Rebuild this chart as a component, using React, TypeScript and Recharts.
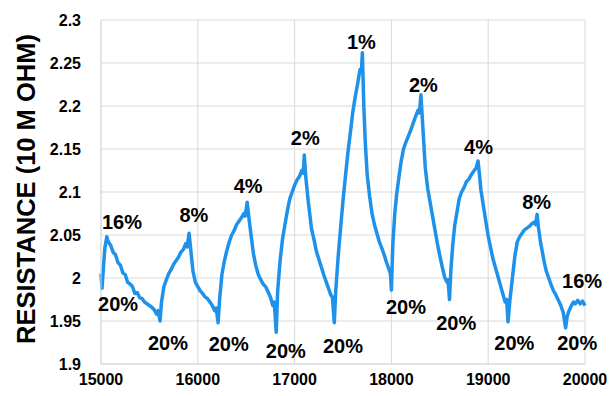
import React from 'react';
import { ComposedChart, Line, Scatter, XAxis, YAxis, CartesianGrid } from 'recharts';

const timeValues: number[] = [
  15000, 15010, 15025, 15040, 15060, 15075, 15100, 15125, 15150, 15175, 15200, 15225, 15250, 15275, 15300, 15325, 15350, 15375, 15400, 15425, 15450, 15475, 15500, 15525, 15550, 15575, 15590, 15610,
  15625, 15650, 15675, 15700, 15725, 15750, 15775, 15800, 15825, 15850, 15875, 15890, 15910,
  15930, 15950, 15975, 16000, 16025, 16050, 16075, 16100, 16125, 16150, 16175, 16190, 16210,
  16225, 16250, 16275, 16300, 16325, 16350, 16375, 16400, 16425, 16450, 16475, 16490, 16510,
  16530, 16550, 16575, 16600, 16625, 16650, 16675, 16700, 16725, 16750, 16775, 16790, 16810,
  16825, 16850, 16875, 16900, 16925, 16950, 16975, 17000, 17025, 17050, 17075, 17090, 17100,
  17115, 17140, 17175, 17200, 17225, 17250, 17275, 17300, 17325, 17350, 17375, 17390, 17410,
  17425, 17450, 17475, 17500, 17525, 17550, 17575, 17600, 17625, 17650, 17675, 17690, 17700,
  17715, 17730, 17750, 17775, 17800, 17825, 17850, 17875, 17900, 17925, 17950, 17975, 17990, 18000,
  18015, 18035, 18055, 18075, 18100, 18125, 18150, 18175, 18200, 18225, 18250, 18275, 18290, 18305,
  18325, 18350, 18375, 18400, 18425, 18450, 18475, 18500, 18525, 18550, 18575, 18585, 18600,
  18615, 18635, 18655, 18675, 18700, 18725, 18750, 18775, 18800, 18825, 18850, 18875, 18895,
  18910, 18925, 18950, 18975, 19000, 19025, 19050, 19075, 19100, 19125, 19150, 19175, 19190, 19205,
  19225, 19250, 19275, 19300, 19325, 19350, 19375, 19400, 19425, 19450, 19475, 19490, 19505,
  19520, 19540, 19560, 19580, 19600, 19625, 19650, 19675, 19700, 19725, 19750, 19775, 19800,
  19815, 19835, 19860, 19880, 19900, 19925, 19950, 19975, 20000,
];

const resistanceValues: number[] = [
  2.005, 1.988, 2.012, 2.035, 2.048, 2.042, 2.038, 2.030, 2.027, 2.018, 2.015, 2.006, 2.004, 1.995, 1.993, 1.990, 1.982, 1.983, 1.977, 1.976, 1.972, 1.970, 1.968, 1.966, 1.963, 1.958, 1.962, 1.950,
  1.972, 1.990, 1.998, 2.005, 2.010, 2.016, 2.020, 2.024, 2.030, 2.033, 2.040, 2.036, 2.052,
  2.030, 2.008, 1.995, 1.990, 1.985, 1.982, 1.978, 1.976, 1.972, 1.968, 1.962, 1.965, 1.948,
  1.975, 2.005, 2.020, 2.032, 2.042, 2.050, 2.055, 2.062, 2.066, 2.070, 2.075, 2.072, 2.088,
  2.068, 2.050, 2.028, 2.014, 2.004, 1.998, 1.993, 1.990, 1.984, 1.978, 1.968, 1.972, 1.937,
  1.985, 2.020, 2.045, 2.062, 2.078, 2.092, 2.100, 2.108, 2.114, 2.118, 2.125, 2.122, 2.143,
  2.118, 2.090, 2.057, 2.045, 2.031, 2.022, 2.013, 2.004, 1.996, 1.988, 1.980, 1.978, 1.948,
  1.985, 2.025, 2.058, 2.090, 2.118, 2.145, 2.168, 2.192, 2.210, 2.225, 2.242, 2.240, 2.262,
  2.200, 2.158, 2.120, 2.095, 2.075, 2.062, 2.052, 2.042, 2.035, 2.027, 2.018, 2.010, 2.005, 1.986,
  2.040, 2.075, 2.098, 2.115, 2.135, 2.150, 2.158, 2.165, 2.172, 2.180, 2.188, 2.195, 2.192, 2.213,
  2.175, 2.128, 2.104, 2.088, 2.072, 2.056, 2.040, 2.026, 2.013, 2.001, 1.995, 1.998, 1.975,
  2.010, 2.040, 2.062, 2.075, 2.092, 2.100, 2.105, 2.112, 2.115, 2.120, 2.124, 2.128, 2.136,
  2.120, 2.102, 2.084, 2.066, 2.049, 2.035, 2.022, 2.012, 2.002, 1.992, 1.982, 1.972, 1.975, 1.949,
  1.975, 2.000, 2.025, 2.042, 2.048, 2.052, 2.056, 2.058, 2.060, 2.063, 2.065, 2.062, 2.074,
  2.058, 2.042, 2.030, 2.018, 2.008, 2.000, 1.992, 1.985, 1.980, 1.974, 1.968, 1.960, 1.942,
  1.955, 1.962, 1.968, 1.972, 1.970, 1.974, 1.970, 1.973, 1.968,
];

const annotationTexts: string[] = ['16%', '20%', '8%', '20%', '4%', '20%', '2%', '20%', '1%', '20%', '2%', '20%', '4%', '20%', '8%', '20%', '16%', '20%'];
const annotationX: number[] = [15217, 15176, 15960, 15692, 16520, 16320, 17110, 16910, 17690, 17500, 18330, 18150, 18900, 18670, 19500, 19270, 19970, 19920];
const annotationY: number[] = [2.065, 1.970, 2.073, 1.925, 2.107, 1.923, 2.163, 1.915, 2.275, 1.921, 2.224, 1.966, 2.152, 1.948, 2.088, 1.925, 1.996, 1.924];

const xTicks: number[] = [15000, 16000, 17000, 18000, 19000, 20000];
const yTicks: number[] = [1.9, 1.95, 2, 2.05, 2.1, 2.15, 2.2, 2.25, 2.3];

const lineData = timeValues.map((t, i) => ({ x: t, y: resistanceValues[i] }));
const labelData = annotationTexts.map((s, i) => ({ x: annotationX[i], y: annotationY[i], text: s }));

const FONT = '"Liberation Sans", Arial, sans-serif';

const LabelShape = (props: any) => {
  const { cx, cy, payload } = props;
  return (
    <text x={cx} y={cy} textAnchor="middle" dominantBaseline="central" fontFamily={FONT} fontWeight="bold" fontSize={20} fill="#000">
      {payload.text}
    </text>
  );
};

const YTitle = (props: any) => {
  const cx = 26;
  const cy = 189;
  return (
    <text x={cx} y={cy} transform={`rotate(-90, ${cx}, ${cy})`} textAnchor="middle" dominantBaseline="central" fontFamily={FONT} fontWeight="bold" fontSize={25.5} fill="#000">
      RESISTANCE (10 M OHM)
    </text>
  );
};

export default function App() {
  return (
    <div style={{ position: 'absolute', left: 0, top: 0, width: 611, height: 396, background: '#fff' }}>
      <ComposedChart width={611} height={396} margin={{ top: 20, right: 26, bottom: 7, left: 41 }}>
        <CartesianGrid stroke="#d9d9d9" strokeWidth={1} />
        <XAxis
          type="number"
          dataKey="x"
          domain={[15000, 20000]}
          ticks={xTicks}
          height={25}
          tickLine={false}
          axisLine={{ stroke: '#d9d9d9' }}
          tick={{ fill: '#000', fontFamily: FONT, fontWeight: 'bold', fontSize: 16 }}
          tickMargin={4}
          interval={0}
        />
        <YAxis
          type="number"
          dataKey="y"
          domain={[1.9, 2.3]}
          ticks={yTicks}
          width={60}
          tickLine={false}
          axisLine={{ stroke: '#d9d9d9' }}
          tick={{ fill: '#000', fontFamily: FONT, fontWeight: 'bold', fontSize: 16 }}
          tickMargin={14}
          interval={0}
          label={<YTitle />}
        />
        <Line
          data={lineData}
          dataKey="y"
          type="linear"
          stroke="#1E92EA"
          strokeWidth={3.5}
          strokeLinejoin="round"
          dot={false}
          activeDot={false}
          isAnimationActive={false}
        />
        <Scatter data={labelData} dataKey="y" shape={<LabelShape />} isAnimationActive={false} />
      </ComposedChart>
    </div>
  );
}
